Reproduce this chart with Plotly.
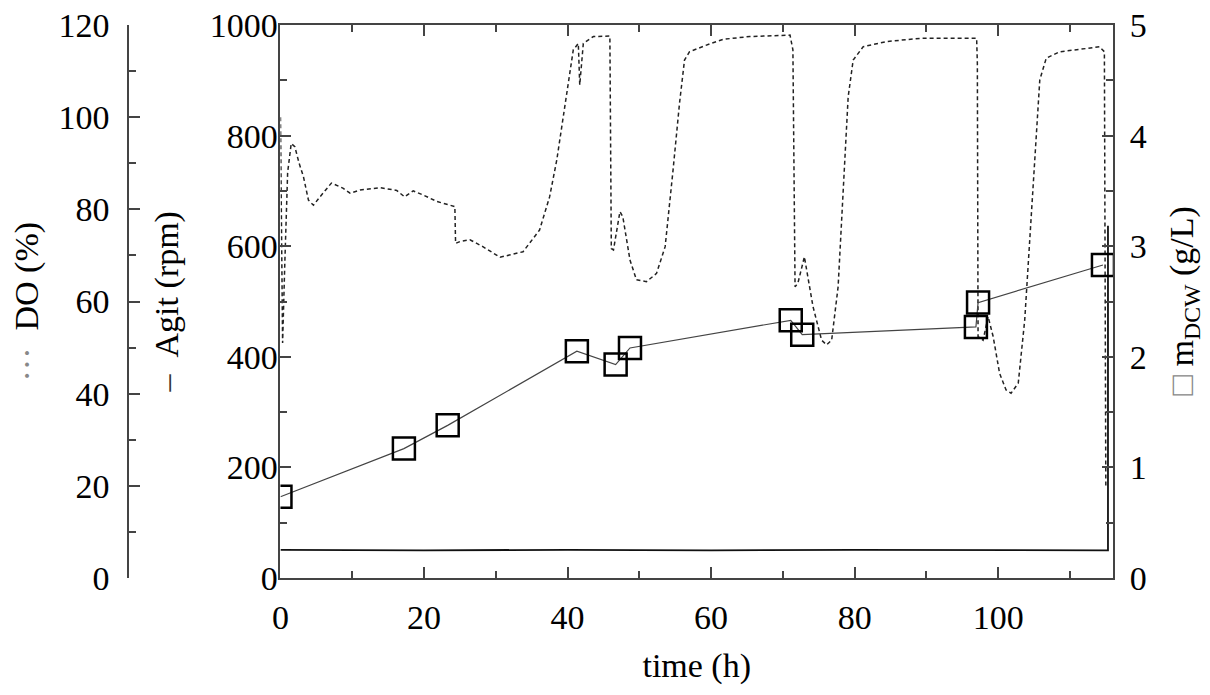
import plotly.graph_objects as go

# dissolved oxygen (%), dashed curve
do_time = [0, 0.15, 0.3, 0.6, 1.0, 1.5, 2.0, 2.6, 3.2, 3.9, 4.6, 5.5, 7.1, 8.7, 9.7, 11.1, 13.9, 16.2, 17.3,
           18.5, 19.9, 21.8, 23.1, 24.3, 24.4, 25.0, 26.4, 28.2, 30.6, 32.0, 33.8, 36.1, 37.5, 38.5, 39.9,
           40.8, 41.5, 41.7, 42.2, 43.6, 45.9, 46.1, 46.4, 47.3, 47.7, 48.7, 49.6, 51.0, 52.4, 53.6, 54.7,
           55.6, 56.3, 57.0, 59.8, 61.7, 65.4, 71.0, 71.4, 71.7, 72.1, 73.0, 74.2, 75.4, 76.1, 76.8, 77.7,
           78.4, 79.1, 79.8, 81.2, 84.4, 89.1, 97.0, 97.1, 97.2, 97.9, 98.6, 99.3, 100.2, 101.1, 101.8,
           102.8, 103.7, 104.6, 105.3, 105.8, 106.7, 108.6, 112.3, 114.1, 114.8, 115.0]
do_pct = [100, 75, 51, 68, 88, 94.3, 93.6, 90, 87.1, 82.0, 80.9, 82.7, 85.7, 84.6, 83.5, 84.2, 84.7, 84.1, 82.7,
          84.0, 83.1, 81.7, 81.1, 80.6, 72.6, 73.0, 73.4, 71.9, 69.6, 70.1, 70.8, 75.5, 82.7, 90.7, 105.9,
          114.6, 116.0, 107.0, 116.0, 117.5, 117.6, 71.5, 71.2, 79.5, 78.4, 69.0, 64.7, 64.3, 66.1, 71.9, 88.5,
          103.0, 112.4, 114.2, 115.9, 116.9, 117.5, 117.8, 114.6, 63.2, 64.0, 69.7, 58.9, 51.6, 50.6, 51.6, 63.2,
          84.9, 104.4, 112.4, 115.3, 116.4, 117.1, 117.1, 111.7, 52.4, 51.6, 56.7, 52.4, 44.4, 40.8, 40.1,
          42.3, 56.0, 77.7, 95.8, 108.1, 112.8, 114.2, 114.9, 115.3, 114.2, 19.5]

# agitation (rpm), solid line
agit_time = [0, 20, 40, 60, 80, 100, 115.3, 115.3]
agit_rpm = [51, 50, 51, 50, 51, 50, 50, 637]

# dry cell weight (g/L), squares
dcw_time = [0, 17.2, 23.3, 41.3, 46.7, 48.7, 71.1, 72.7, 96.9, 97.2, 114.6]
dcw_gl = [0.735, 1.17, 1.38, 2.05, 1.93, 2.08, 2.33, 2.20, 2.27, 2.49, 2.83]

FONT = "Liberation Serif"
FS = 34
AXC = "#444444"

fig = go.Figure()
fig.add_trace(go.Scatter(x=do_time, y=do_pct, mode='lines', yaxis='y2',
                         line=dict(color='#222222', width=1.5, dash='4px,3px')))
fig.add_trace(go.Scatter(x=agit_time, y=agit_rpm, mode='lines', yaxis='y',
                         line=dict(color='#111111', width=1.8)))
fig.add_trace(go.Scatter(x=dcw_time, y=dcw_gl, mode='lines+markers', yaxis='y3',
                         line=dict(color='#444444', width=1.2),
                         marker=dict(symbol='square-open', size=22, color='black', line=dict(width=2.5, color='black'))))

def ax(**kw):
    base = dict(showgrid=False, zeroline=False, showline=True, linecolor=AXC, linewidth=2,
                ticks='inside', ticklen=11, tickwidth=1.5, tickcolor=AXC, automargin=False,
                ticklabeloverflow='allow',
                tickfont=dict(family=FONT, size=FS, color='black'), ticklabelstandoff=2)
    base.update(kw)
    return base

# the page body adds an 8px offset, so the margins are shifted up/left to compensate
fig.update_layout(
    width=1210, height=695,
    margin=dict(l=2, r=105, t=17, b=125),
    paper_bgcolor='white', plot_bgcolor='white',
    showlegend=False,
    font=dict(family=FONT, size=FS, color='black'),
    xaxis=ax(range=[0, 116], dtick=20, domain=[0.2452, 1], mirror='ticks', ticklabelstandoff=8,
             minor=dict(dtick=10, ticklen=7, ticks='inside', tickcolor=AXC),
             title=dict(text='time (h)', font=dict(family=FONT, size=FS), standoff=18)),
    yaxis=ax(range=[0, 1000], dtick=200, side='left', ticklabelstandoff=-6,
             minor=dict(dtick=100, ticklen=7, ticks='inside', tickcolor=AXC)),
    yaxis2=ax(range=[0, 120], dtick=20, overlaying='y', anchor='free', position=0.1073, side='left',
              ticklabelstandoff=11,
              minor=dict(dtick=10, ticklen=7, ticks='inside', tickcolor=AXC)),
    yaxis3=ax(range=[0, 5], dtick=1, overlaying='y', anchor='x', side='right', ticklabelstandoff=8,
              minor=dict(dtick=0.5, ticklen=7, ticks='inside', tickcolor=AXC)),
)

# rotated y-axis titles with their line-style keys
titles = [
    (0.0154, "<span style='color:#888888'>···</span>&nbsp;&nbsp;DO (%)"),
    (0.1423, "<span style='color:#333333'>–</span>&nbsp;&nbsp;Agit (rpm)"),
    (1.0635, "<span style='color:#888888'>□</span>&nbsp;m<sub>DCW</sub> (g/L)"),
]
for xp, txt in titles:
    fig.add_annotation(x=xp, y=0.5, xref='paper', yref='paper', text=txt, textangle=-90,
                       showarrow=False, xanchor='center', yanchor='middle',
                       font=dict(family=FONT, size=FS, color='black'))

fig.write_html("out.html")
